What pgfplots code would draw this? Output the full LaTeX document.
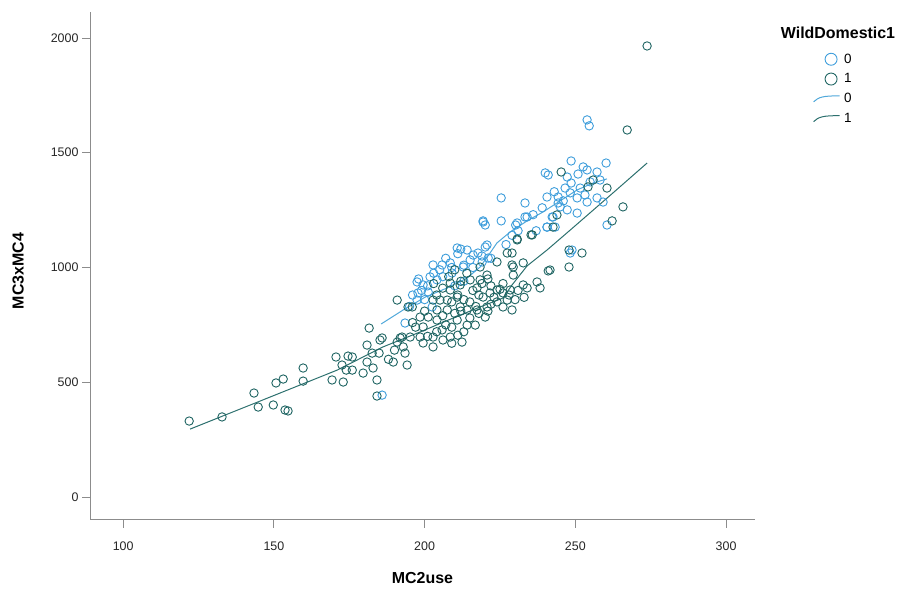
\documentclass[border=0pt]{standalone}
\usepackage{fontspec}
\setmainfont{Liberation Sans}
\usepackage{pgfplots}
\usepackage{pgfplotstable}
\pgfplotsset{compat=1.18}
\definecolor{cblue}{RGB}{61,157,219}
\definecolor{cgreen}{RGB}{30,100,98}
\definecolor{lblue}{RGB}{80,168,218}
\definecolor{lgreen}{RGB}{44,112,110}
\definecolor{axgray}{RGB}{140,140,140}
\pgfplotsset{squig/.style={legend image code/.code={\draw[##1] (-9bp,-3bp) .. controls (-4bp,2bp) and (1bp,3bp) .. (17bp,3bp);}}}

\pgfplotstableread{
x y
185.9 444
219.4 1203
220.1 1185
225.4 1203
230.7 1194
233.3 1220
233.3 1281
240.6 1176
242.6 1220
244.3 1281
210.8 1085
214.1 1076
216.1 1054
217.7 1063
220.7 1098
221.1 1041
219.1 1024
215.1 1033
212.8 1002
208.5 1020
205.8 1011
202.8 1011
197.5 937
199.5 924
201.8 959
204.1 946
209.1 976
197.5 858
197.8 889
201.2 893
202.5 828
193.5 758
253.9 1643
254.6 1617
248.6 1464
252.6 1438
253.9 1425
257.2 1416
260.2 1455
240.0 1412
241.0 1403
247.3 1394
250.9 1407
248.6 1368
246.6 1346
251.6 1346
254.9 1373
258.2 1381
248.3 1325
250.6 1303
253.9 1285
257.2 1303
259.2 1285
253.2 1316
244.3 1307
240.6 1307
245.0 1264
247.3 1251
250.6 1237
242.3 1220
243.3 1176
240.6 1176
225.4 1303
234.0 1220
230.2 1185
220.1 1089
219.4 1198
260.5 1185
248.3 1063
248.9 1076
203 975
205 990
207 1040
209 1000
211 1060
213 1010
199 900
201 920
196 880
198 950
212 1080
216 1000
219 1050
222 1040
206 960
200 860
231 1160
236 1230
239 1260
243 1330
246 1290
195 830
227 1100
229 1140
237 1160
210 920
213 940
}\bluepts

\pgfplotstableread{
x y
121.9 331
132.8 349
143.4 453
144.8 392
149.8 401
150.7 497
153.1 514
153.7 379
154.7 375
159.7 562
159.7 505
169.3 510
170.6 610
172.6 575
173.0 501
174.6 614
176.0 610
174.0 553
176.0 553
179.6 540
180.9 588
180.9 662
181.6 736
182.9 562
184.2 510
184.2 440
185.2 684
184.9 627
182.6 627
189.6 588
190.9 675
191.9 693
192.9 654
193.5 627
194.2 575
194.5 828
224.0 1024
227.4 1063
229.0 1063
230.7 1120
235.7 1142
229.0 1011
229.4 967
232.7 1020
241.6 989
237.3 937
238.3 911
232.7 924
234.0 911
228.4 902
226.0 889
224.0 902
221.7 889
219.4 871
217.4 911
215.1 946
218.4 946
220.7 967
218.4 1002
227.4 858
229.0 815
226.0 828
220.7 828
217.4 815
214.1 815
211.8 828
210.8 871
208.5 902
208.5 932
211.8 924
207.5 858
205.1 858
202.8 858
204.1 815
207.5 815
201.2 784
198.5 784
195.9 828
190.9 858
199.5 741
204.1 771
205.8 728
208.5 697
210.8 771
214.1 749
216.8 749
220.1 784
212.4 675
202.8 654
199.5 671
195.2 697
192.5 697
185.9 693
202.8 697
206.1 684
198.5 697
267.2 1599
245.3 1416
255.9 1381
254.2 1351
260.5 1346
265.8 1264
262.2 1203
243.9 1229
242.6 1176
235.3 1142
230.7 1124
252.2 1063
247.9 1002
241.0 985
229.4 1002
273.8 1965
247.9 1076
208 960
210 990
212 940
214 975
216 900
218 880
211 880
209 850
213 860
215 850
219 930
221 950
223 870
225 905
222 840
206 910
204 880
203 930
210 800
212 810
207 750
209 740
211 705
213 720
218 800
221 810
224 850
226 930
228 880
230 860
231 900
233 870
196 760
200 810
201 700
197 740
188 600
190 640
206 790
209 670
204 720
215 780
217 830
222 920
}\greenpts

\pgfplotstableread{
x y
185.6 754
192.9 815
200.2 871
207.5 911
214.1 954
218.4 1002
221.7 1063
224.0 1107
228.4 1155
234.0 1203
239.3 1242
243.9 1281
250.6 1338
255.9 1368
260.5 1386
}\blueline

\pgfplotstableread{
x y
122.2 296
145.4 418
171.0 553
186.2 654
198.5 719
209.5 780
218.4 828
226.0 867
229.0 924
234.0 1007
240.6 1076
248.3 1163
262.5 1325
273.8 1455
}\greenline

\begin{document}
\begin{tikzpicture}[x=1bp,y=1bp]
\useasboundingbox (0,0) rectangle (900,590);
\begin{axis}[
  at={(90bp,70bp)}, anchor=south west,
  scale only axis, width=665bp, height=508bp,
  xmin=89, xmax=309.6, ymin=-100, ymax=2113,
  axis x line*=bottom, axis y line*=left,
  axis line style={axgray, line width=1bp, -},
  xtick={100,150,...,300}, ytick={0,500,...,2000},
  tick style={axgray, line width=0.8bp},
  major tick length=8bp, tick align=outside,
  minor tick num=0,
  ticklabel style={font=\fontsize{12.5}{14}\selectfont, text=black!85},
  xticklabel style={yshift=-10bp},
  /pgf/number format/assume math mode=true,
  /pgf/number format/1000 sep={},
  xlabel={MC2use}, ylabel={MC3xMC4},
  label style={font=\fontsize{16}{18}\selectfont\bfseries},
  xlabel style={at={(axis description cs:0.5,-0.114)}, anchor=center},
  ylabel style={at={(axis description cs:-0.108,0.49)}, anchor=center},
  legend style={at={(1.087,0.922)}, anchor=north west, draw=none, fill=none,
     font=\fontsize{13.5}{15}\selectfont, row sep=5bp, cells={anchor=west},
     inner sep=0pt, nodes={inner xsep=4bp}},
  legend cell align=left,
  clip=false,
]
\addplot[only marks, mark=o, mark size=4.2bp, cblue, line width=0.9bp, forget plot] table[x=x,y=y] {\bluepts};
\addplot[only marks, mark=o, mark size=4.2bp, cgreen, line width=0.9bp, forget plot] table[x=x,y=y] {\greenpts};
\addplot[lblue, line width=1bp, forget plot] table[x=x,y=y] {\blueline};
\addplot[lgreen, line width=1bp, forget plot] table[x=x,y=y] {\greenline};
\addlegendimage{only marks, mark=o, mark size=6bp, cblue, line width=0.9bp}
\addlegendentry{0}
\addlegendimage{only marks, mark=o, mark size=6bp, cgreen, line width=0.9bp}
\addlegendentry{1}
\addlegendimage{lblue, line width=1bp, squig}
\addlegendentry{0}
\addlegendimage{lgreen, line width=1bp, squig}
\addlegendentry{1}
\end{axis}
\node[font=\fontsize{16}{18}\selectfont\bfseries, anchor=center] at (838,557) {WildDomestic1};
\end{tikzpicture}
\end{document}
